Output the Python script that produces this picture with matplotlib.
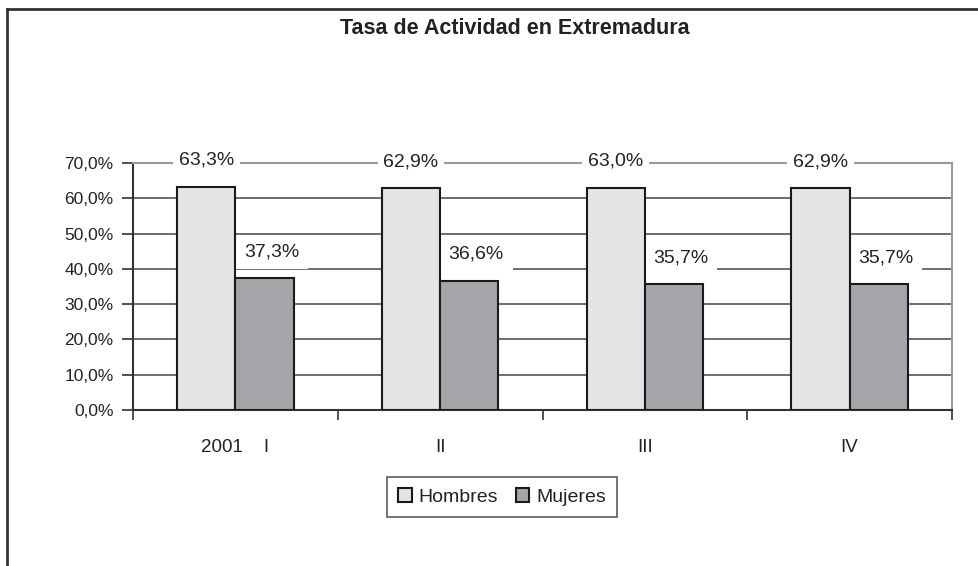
import numpy as np
import matplotlib.pyplot as plt
from matplotlib.lines import Line2D
from matplotlib.ticker import FuncFormatter

plt.rcParams['font.family'] = ['Liberation Sans', 'DejaVu Sans']

# --- datos ---
trimestres = ['2001    I', 'II', 'III', 'IV']
hombres = [63.3, 62.9, 63.0, 62.9]
mujeres = [37.3, 36.6, 35.7, 35.7]

col_h = '#e3e4e6'
col_m = '#a3a5a8'
txt = '#222222'

fig = plt.figure(figsize=(9.79, 5.66), dpi=100)
ax = fig.add_axes([133 / 979, 1 - 410 / 566, (952 - 133) / 979, (410 - 163) / 566])

x = np.arange(len(trimestres))
w = 0.285
bh = ax.bar(x - w / 2, hombres, w, color=col_h, edgecolor='#1a1a1a', linewidth=1.5,
            label='Hombres', zorder=3)
bm = ax.bar(x + w / 2, mujeres, w, color=col_m, edgecolor='#1a1a1a', linewidth=1.5,
            label='Mujeres', zorder=3)

# etiquetas con fondo blanco (por debajo de las barras, encima de la rejilla y el borde)
for xi, v in zip(x, hombres):
    ax.annotate(f"{v:.1f}%".replace('.', ','), (xi - w / 2, v), xytext=(0, 19),
                textcoords='offset points', ha='center', va='center', fontsize=14,
                color=txt, zorder=2.8, annotation_clip=False,
                bbox=dict(boxstyle='square,pad=0.3', fc='white', ec='none'))
for xi, v in zip(x, mujeres):
    ax.annotate(f"{v:.1f}%".replace('.', ','), (xi + w / 2, v), xytext=(5, 19),
                textcoords='offset points', ha='center', va='center', fontsize=14,
                color=txt, zorder=2.8,
                bbox=dict(boxstyle='square,pad=0.45', fc='white', ec='none'))

ax.set_xlim(-0.5, len(trimestres) - 0.5)
ax.set_ylim(0, 70)
ax.set_yticks(np.arange(0, 71, 10))
ax.yaxis.set_major_formatter(FuncFormatter(lambda v, p: f"{v:.1f}%".replace('.', ',')))
ax.yaxis.grid(True, color='#555555', linewidth=1.2, zorder=0)
ax.tick_params(axis='y', direction='out', length=8, width=1.2, color='#333333',
               labelsize=12.5, pad=6, labelcolor=txt)

ax.set_xticks(x)
ax.set_xticklabels(trimestres)
ax.set_xticks(np.arange(-0.5, len(trimestres)), minor=True)
ax.tick_params(axis='x', which='major', length=0, labelsize=13.5, pad=21, labelcolor=txt)
ax.tick_params(axis='x', which='minor', direction='out', length=7, width=1.2, color='#333333')

for s in ['top', 'right']:
    ax.spines[s].set_color('#999999')
    ax.spines[s].set_linewidth(1.5)
ax.spines['left'].set_color('#333333')
ax.spines['left'].set_linewidth(1.5)
ax.spines['bottom'].set_color('#333333')
ax.spines['bottom'].set_linewidth(1.5)

fig.text(515 / 979, 1 - 29 / 566, 'Tasa de Actividad en Extremadura', ha='center',
         va='center', fontsize=15.5, fontweight='bold', color=txt)

leg = fig.legend(handles=[bh, bm], loc='center', bbox_to_anchor=(502 / 979, 1 - 497 / 566),
                 ncol=2, frameon=True, fancybox=False, fontsize=14, handlelength=0.7,
                 handleheight=0.7, handletextpad=0.35, columnspacing=0.9, borderpad=0.6)
leg.get_frame().set_edgecolor('#333333')
leg.get_frame().set_linewidth(1.2)
for t in leg.get_texts():
    t.set_color(txt)

# marco exterior
fig.add_artist(Line2D([7 / 979, 1], [1 - 9 / 566, 1 - 9 / 566], color='#333333', linewidth=2))
fig.add_artist(Line2D([7 / 979, 7 / 979], [0, 1 - 9 / 566], color='#333333', linewidth=2))

fig.savefig('out.png', dpi=100)
